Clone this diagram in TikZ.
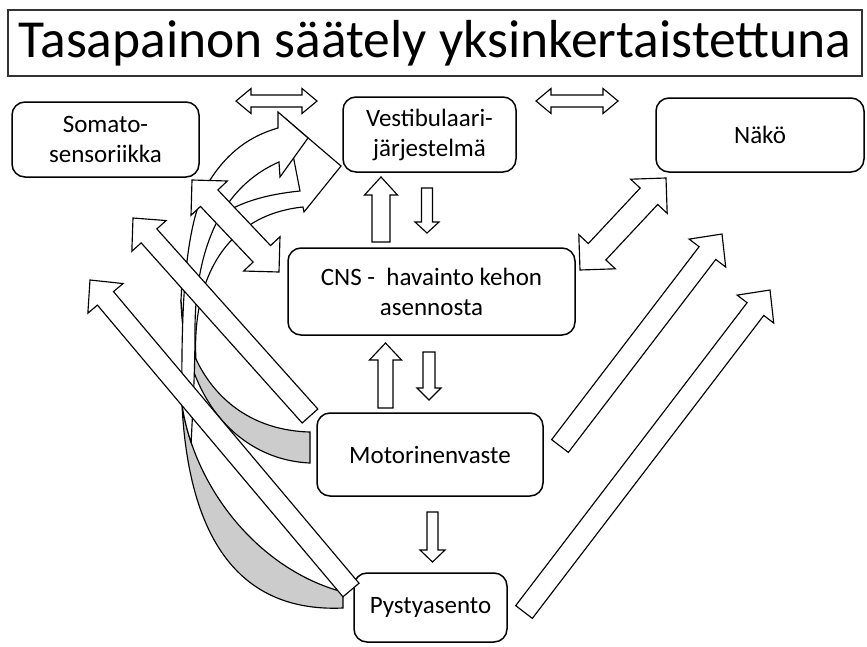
\documentclass[tikz,border=0pt]{standalone}
\usepackage{fontspec}
\setmainfont{Carlito}
\usetikzlibrary{calc}
\definecolor{bandgray}{RGB}{204,204,204}
\tikzset{
 box/.style={draw=black, line width=1.5pt, rounded corners=13pt, fill=white, align=center, inner sep=0pt, font=\fontsize{25}{30}\selectfont},
 blockarrow/.style={draw=black, line width=1.15pt, fill=white, line join=miter},
 band/.style={draw=black, line width=1.15pt, fill=white},
 backband/.style={draw=black, line width=1.15pt, fill=bandgray},
}
% single block arrow: tail, tip, shaft half width, head half width, head length
\newcommand{\sarrow}[5]{%
 \coordinate (hb) at ($(#2)!#5pt!(#1)$);
 \draw[blockarrow] ($(#1)!#3pt!90:(#2)$) -- ($(hb)!#3pt!90:(#2)$) -- ($(hb)!#4pt!90:(#2)$) -- (#2) -- ($(hb)!#4pt!-90:(#2)$) -- ($(hb)!#3pt!-90:(#2)$) -- ($(#1)!#3pt!-90:(#2)$) -- cycle;
}
% double block arrow: tip A, tip B, shaft half width, head half width, head length
\newcommand{\darrow}[5]{%
 \coordinate (ha) at ($(#1)!#5pt!(#2)$);
 \coordinate (hb) at ($(#2)!#5pt!(#1)$);
 \draw[blockarrow] (#1) -- ($(ha)!#4pt!90:(#2)$) -- ($(ha)!#3pt!90:(#2)$) -- ($(hb)!#3pt!-90:(#1)$) -- ($(hb)!#4pt!-90:(#1)$) -- (#2) -- ($(hb)!#4pt!90:(#1)$) -- ($(hb)!#3pt!90:(#1)$) -- ($(ha)!#3pt!-90:(#2)$) -- ($(ha)!#4pt!-90:(#2)$) -- cycle;
}
\begin{document}
\begin{tikzpicture}[x=1pt,y=-1pt]
\useasboundingbox (0,0) rectangle (867,646);
\fill[white] (0,0) rectangle (867,646);

% title
\node[draw=black!80, line width=1.2pt, fill=white, minimum width=854pt, minimum height=66pt, inner sep=0pt, font=\fontsize{53.5}{60}\selectfont] (title) at (435,43) {Tasapainon säätely yksinkertaistettuna};

% boxes
\node[box, minimum width=187pt, minimum height=75pt] (somato) at (105.5,139.5) {Somato-\\sensoriikka};
\node[box, minimum width=173pt, minimum height=75pt] (vest) at (429.5,134.5) {Vestibulaari-\\järjestelmä};
\node[box, minimum width=208pt, minimum height=74pt] (nako) at (760,135) {Näkö};
\node[box, minimum width=287pt, minimum height=87pt] (cns) at (431.5,291.5) {CNS -\ \ havainto kehon\\asennosta};
\node[box, minimum width=226pt, minimum height=83pt] (motor) at (430,454.5) {Motorinenvaste};
\node[box, minimum width=153pt, minimum height=69pt] (pysty) at (430.5,607.5) {Pystyasento};

% curved arrows
% M (from Motorinenvaste)
\draw[backband] (310,463) .. controls (240,460) and (183,400) .. (181,300) .. controls (186,370) and (230,430) .. (310,432) -- cycle;
\draw[band] (181,300) .. controls (183,240) and (210,200) .. (300,191) -- (286,119) -- (341,166) -- (304,212) -- (303,207) .. controls (225,215) and (192,280) .. (195.9,359) .. controls (187.5,341.1) and (182.5,321) .. (181,300) -- cycle;
% P (from Pystyasento)
\draw[backband] (343,608) .. controls (255,612) and (190,560) .. (182,405) .. controls (195,490) and (260,570) .. (343,592) -- cycle;
\draw[band] (182,405) .. controls (181,300) and (185,220) .. (210,180) .. controls (228,152) and (250,136) .. (278,128) -- (278,112) -- (308,138) -- (280,177) -- (279,162) .. controls (215,190) and (195,260) .. (195,330) .. controls (195,380) and (192,420) .. (191.2,442.7) .. controls (187.07,430.4) and (183.95,417.75) .. (182,405) -- cycle;

% top horizontal double arrows
\coordinate (hL1) at (236,101); \coordinate (hL2) at (317,101);
\coordinate (hR1) at (536,101); \coordinate (hR2) at (618,101);
\darrow{hL1}{hL2}{6}{12.5}{15}
\darrow{hR1}{hR2}{6}{12.5}{15}

% vertical arrows
\coordinate (a1t) at (381,242); \coordinate (a1h) at (381,177);
\sarrow{a1t}{a1h}{9}{16.5}{18}
\coordinate (a2t) at (427,188); \coordinate (a2h) at (427,233);
\sarrow{a2t}{a2h}{5.5}{12}{11}
\coordinate (a3t) at (385.5,408); \coordinate (a3h) at (385.5,343);
\sarrow{a3t}{a3h}{7.5}{16}{17}
\coordinate (a4t) at (429,352); \coordinate (a4h) at (429,400);
\sarrow{a4t}{a4h}{6}{12}{12}
\coordinate (a5t) at (432.5,512); \coordinate (a5h) at (432.5,562);
\sarrow{a5t}{a5h}{5.5}{12.5}{12}

% long diagonal arrows
\coordinate (ml1) at (310,416); \coordinate (ml2) at (133,218);
\sarrow{ml1}{ml2}{10.5}{23}{24}
\coordinate (pl1) at (351,590); \coordinate (pl2) at (90,280);
\sarrow{pl1}{pl2}{10.5}{23}{24}
\coordinate (mr1) at (560,446); \coordinate (mr2) at (722,234);
\sarrow{mr1}{mr2}{10.5}{23}{24}
\coordinate (pr1) at (524,612); \coordinate (pr2) at (770,290);
\sarrow{pr1}{pr2}{10.5}{23}{24}

% diagonal double arrows
\coordinate (sc1) at (192,180); \coordinate (sc2) at (279,272);
\darrow{sc1}{sc2}{12}{25}{25}
\coordinate (nc1) at (580,270); \coordinate (nc2) at (666,178);
\darrow{nc1}{nc2}{12}{25}{25}
\end{tikzpicture}
\end{document}
